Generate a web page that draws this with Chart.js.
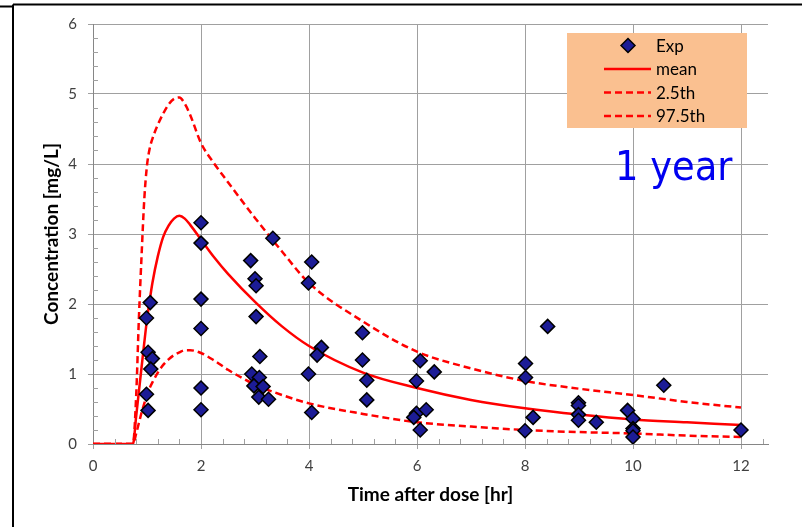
<!DOCTYPE html>
<html>
<head>
<meta charset="utf-8">
<title>Concentration vs time, 1 year</title>
<script src="https://cdn.jsdelivr.net/npm/chart.js@4"></script>
<style>
  html, body { margin: 0; padding: 0; background: #fff; }
  #wrap { width: 802px; height: 527px; position: relative; }
</style>
</head>
<body>
<div id="wrap"><canvas id="myChart"></canvas></div>
<script>
var ctx = document.getElementById('myChart');

// observed concentrations
var expTime = [2, 2, 1.06, 0.99, 2, 2, 1.02, 1.10, 1.07, 0.99, 1.02, 2, 2,
  3.33, 2.92, 4.05, 3.0, 3.02, 3.99, 3.02, 3.09, 4.23, 4.15, 2.94, 3.08, 2.98, 3.15, 3.07, 3.25, 3.99, 4.05,
  4.99, 4.99, 5.07, 5.07,
  6.06, 6.32, 5.99, 5.99, 6.17, 5.94, 6.06,
  8.42, 8.01, 8.01, 8.15, 8.0, 8.99, 8.99, 8.99, 8.99, 9.32,
  9.9, 10.0, 10.0, 10.0, 10.0, 10.57, 12.0];
var expConc = [3.16, 2.87, 2.02, 1.80, 2.07, 1.65, 1.31, 1.22, 1.07, 0.71, 0.48, 0.80, 0.49,
  2.94, 2.62, 2.60, 2.36, 2.26, 2.30, 1.82, 1.25, 1.38, 1.27, 1.00, 0.95, 0.83, 0.82, 0.67, 0.64, 1.00, 0.45,
  1.59, 1.20, 0.91, 0.63,
  1.19, 1.03, 0.90, 0.44, 0.49, 0.38, 0.20,
  1.68, 1.15, 0.95, 0.38, 0.19, 0.59, 0.55, 0.42, 0.34, 0.31,
  0.48, 0.36, 0.22, 0.19, 0.10, 0.84, 0.20];

// simulated profiles
var simTime = [0, 0.74, 0.8, 0.85, 0.9, 0.95, 1.0, 1.05, 1.1, 1.2, 1.3, 1.4, 1.5, 1.6, 1.7, 1.8, 2.0, 2.25, 2.5, 3, 3.5, 4, 5, 6, 7, 8, 9, 10, 11, 12];
var meanConc = [0, 0, 0.40, 0.75, 1.10, 1.45, 1.78, 2.05, 2.30, 2.68, 2.96, 3.12, 3.22, 3.26, 3.22, 3.13, 2.92, 2.66, 2.43, 2.03, 1.68, 1.40, 1.02, 0.80, 0.63, 0.51, 0.42, 0.35, 0.31, 0.27];
var p025Conc = [0, 0, 0.15, 0.30, 0.45, 0.58, 0.70, 0.80, 0.88, 1.02, 1.13, 1.21, 1.27, 1.31, 1.34, 1.34, 1.30, 1.19, 1.06, 0.85, 0.70, 0.58, 0.43, 0.31, 0.25, 0.20, 0.17, 0.15, 0.12, 0.10];
var p975Conc = [0, 0, 0.70, 1.80, 2.70, 3.50, 3.98, 4.22, 4.36, 4.56, 4.72, 4.85, 4.93, 4.95, 4.86, 4.70, 4.30, 4.00, 3.74, 3.23, 2.75, 2.30, 1.75, 1.32, 1.08, 0.90, 0.79, 0.70, 0.60, 0.52];

var xTicks = [0, 2, 4, 6, 8, 10, 12];
var yTicks = [0, 1, 2, 3, 4, 5, 6];

function pairs(xs, ys) {
  return xs.map(function(x, i) { return {x: x, y: ys[i]}; });
}

var gridGray = '#A0A0A0';
var tickFont = {family: 'Lato', size: 15};
var titleFont = {family: 'Lato', size: 19, weight: 'bold'};

// black frame lines along top and left edge
var framePlugin = {
  id: 'frame',
  afterDraw: function(chart) {
    var c = chart.ctx;
    c.save();
    c.strokeStyle = '#000';
    c.lineWidth = 2;
    c.beginPath();
    c.moveTo(0, 6.5); c.lineTo(13, 6.5);
    c.moveTo(13, 4.5); c.lineTo(802, 4.5);
    c.moveTo(13, 4.5); c.lineTo(13, 527);
    c.stroke();
    c.restore();
  }
};

// small inside ticks between the labelled ones
var minorTicks = {
  id: 'minorTicks',
  afterDraw: function(chart) {
    var c = chart.ctx, xs = chart.scales.x, ys = chart.scales.y;
    c.save();
    c.strokeStyle = gridGray;
    c.lineWidth = 1;
    c.beginPath();
    for (var i = 1; i < 30; i++) {
      if (i % 5 === 0) continue;
      var py = Math.round(ys.getPixelForValue(i * 0.2)) + 0.5;
      c.moveTo(xs.left, py); c.lineTo(xs.left + 5, py);
    }
    for (var j = 1; j <= 31; j++) {
      if (j % 5 === 0) continue;
      var px = Math.round(xs.getPixelForValue(j * 0.4)) + 0.5;
      c.moveTo(px, ys.bottom); c.lineTo(px, ys.bottom - 5);
    }
    c.stroke();
    c.restore();
  }
};

// legend box and the "1 year" note
var boxLegend = {
  id: 'boxLegend',
  afterDraw: function(chart) {
    var c = chart.ctx;
    c.save();
    c.fillStyle = '#FAC090';
    c.fillRect(567, 33, 180, 95);
    c.font = '17px Lato';
    c.textBaseline = 'middle';
    chart.data.datasets.forEach(function(ds, i) {
      var y = 45.5 + i * 23.5;
      if (ds.showLine) {
        c.strokeStyle = ds.borderColor;
        c.lineWidth = ds.borderWidth;
        c.setLineDash(ds.borderDash || []);
        c.beginPath();
        c.moveTo(604, y); c.lineTo(651, y);
        c.stroke();
        c.setLineDash([]);
      } else {
        c.fillStyle = ds.backgroundColor;
        c.strokeStyle = ds.borderColor;
        c.lineWidth = ds.borderWidth;
        Chart.helpers.drawPoint(c, {pointStyle: ds.pointStyle, radius: ds.pointRadius, borderWidth: ds.borderWidth, rotation: 0}, 628, y);
      }
      c.fillStyle = '#000';
      c.fillText(ds.label, 656, y + 1);
    });
    c.fillStyle = '#0000F0';
    c.font = "41px 'DejaVu Sans Condensed', 'DejaVu Sans'";
    c.textBaseline = 'alphabetic';
    c.fillText('1 year', 615, 180);
    c.restore();
  }
};

var myChart = new Chart(ctx, {
  type: 'scatter',
  data: {
    datasets: [{
      label: 'Exp',
      data: pairs(expTime, expConc),
      pointStyle: 'rectRot',
      pointRadius: 7,
      pointHoverRadius: 7,
      backgroundColor: '#1C1C96',
      borderColor: '#000',
      borderWidth: 1.5
    }, {
      label: 'mean',
      data: pairs(simTime, meanConc),
      showLine: true,
      pointRadius: 0,
      borderColor: '#FF0000',
      borderWidth: 2.5,
      cubicInterpolationMode: 'monotone'
    }, {
      label: '2.5th',
      data: pairs(simTime, p025Conc),
      showLine: true,
      pointRadius: 0,
      borderColor: '#FF0000',
      borderWidth: 2.5,
      borderDash: [7, 4],
      cubicInterpolationMode: 'monotone'
    }, {
      label: '97.5th',
      data: pairs(simTime, p975Conc),
      showLine: true,
      pointRadius: 0,
      borderColor: '#FF0000',
      borderWidth: 2.5,
      borderDash: [7, 4],
      cubicInterpolationMode: 'monotone'
    }]
  },
  options: {
    responsive: true,
    maintainAspectRatio: false,
    animation: false,
    events: [],
    layout: {padding: {left: 40, top: 24, right: 34, bottom: 0}},
    plugins: {legend: {display: false}, tooltip: {enabled: false}},
    scales: {
      x: {
        type: 'linear',
        min: 0,
        max: 12.5,
        afterBuildTicks: function(s) { s.ticks = xTicks.map(function(v) { return {value: v}; }); },
        afterFit: function(s) { s.height = 83; },
        ticks: {color: '#404040', font: tickFont, padding: 8, maxRotation: 0},
        grid: {color: gridGray, tickLength: 5, tickColor: gridGray},
        border: {color: '#868686'},
        title: {display: true, text: 'Time after dose [hr]', color: '#000', font: titleFont, padding: {top: 0, bottom: 21}}
      },
      y: {
        min: 0,
        max: 6,
        afterBuildTicks: function(s) { s.ticks = yTicks.map(function(v) { return {value: v}; }); },
        afterFit: function(s) { s.width = 53; },
        ticks: {color: '#404040', font: tickFont, padding: 11},
        grid: {color: gridGray, tickLength: 5, tickColor: gridGray},
        border: {color: '#868686'},
        title: {display: true, text: 'Concentration [mg/L]', color: '#000', font: titleFont, padding: {top: 0, bottom: 0}}
      }
    }
  },
  plugins: [framePlugin, minorTicks, boxLegend]
});
</script>
</body>
</html>
